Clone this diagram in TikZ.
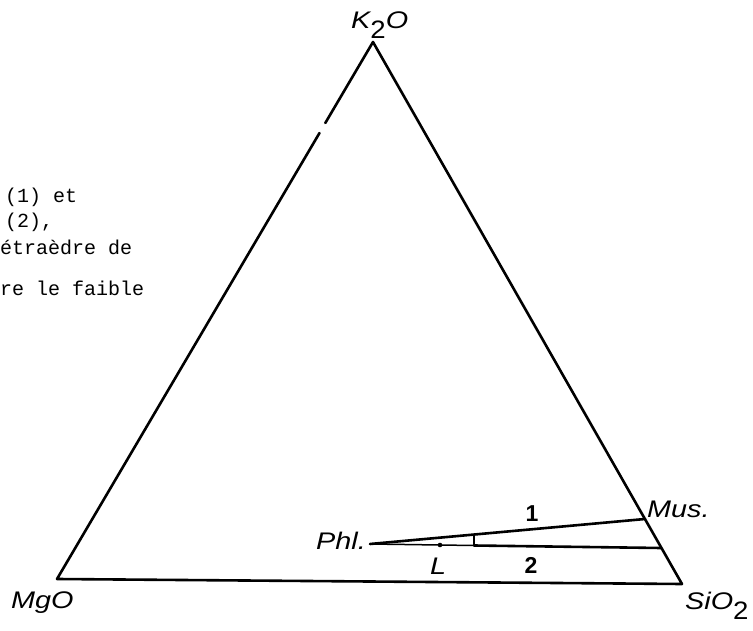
\documentclass[tikz,border=0pt]{standalone}
\usepackage{fontspec}
\setmainfont{Liberation Sans}
\newfontfamily\monofont{Liberation Mono}
\newcommand{\wideit}[1]{\scalebox{1.2}[1]{\itshape #1}}
\newcommand{\subtwo}{\raisebox{-10pt}{\scalebox{1.15}[1.05]{\upshape 2}}}
\begin{document}
\begin{tikzpicture}[x=1pt,y=-1pt, line cap=round, line join=round,
  edge/.style={line width=2.6pt},
  thinedge/.style={line width=1.5pt},
  lab/.style={font=\fontsize{24}{24}\selectfont, inner sep=0pt, anchor=base west},
  num/.style={font=\fontsize{23}{23}\selectfont\bfseries, inner sep=0pt},
  note/.style={font=\monofont\fontsize{20}{20}\selectfont, inner sep=0pt, anchor=base west}]
\useasboundingbox (0,0) rectangle (753,631);
\clip (0,0) rectangle (753,631);
% vertices
\coordinate (K) at (373,42);
\coordinate (Mg) at (57,579);
\coordinate (Si) at (682,584);
\coordinate (gapA) at (325.3,123);
\coordinate (gapB) at (319.5,133);
% inner points
\coordinate (P) at (370,544);
\coordinate (M) at (645,519);
\coordinate (Q) at (661,548);
\coordinate (T1) at (474,534.5);
\coordinate (T2) at (474,545.5);
\coordinate (Ldot) at (440,545);
% triangle with gap on left edge
\draw[edge] (gapA) -- (K) -- (Si) -- (Mg) -- (gapB);
% tie lines
\draw[edge] (P) -- (M);
\draw[thinedge] (P) -- (T2);
\draw[edge] (T2) -- (Q);
\draw[thinedge] (T1) -- (T2);
\fill (Ldot) circle (2.3);
% labels
\node[lab] (lk2o) at (351,29) {\wideit{K}\subtwo\wideit{O}};
\node[lab] (lmgo) at (11,608) {\wideit{MgO}};
\node[lab] (lsio) at (685,609) {\wideit{SiO}\subtwo};
\node[lab] (lmus) at (647,517) {\wideit{Mus.}};
\node[lab] (lphl) at (316,549) {\wideit{Phl.}};
\node[lab] (ll) at (430,574) {\wideit{L}};
\node[num] (l1) at (532,514) {1};
\node[num] (l2) at (531,565.5) {2};
% caption fragment at the left edge
\node[note] (n1) at (5,203) {(1) et};
\node[note] (n2) at (5,228) {(2),};
\node[note] (n3) at (0,255) {étraèdre de};
\node[note] (n4) at (0,296) {re le faible};
\end{tikzpicture}
\end{document}
